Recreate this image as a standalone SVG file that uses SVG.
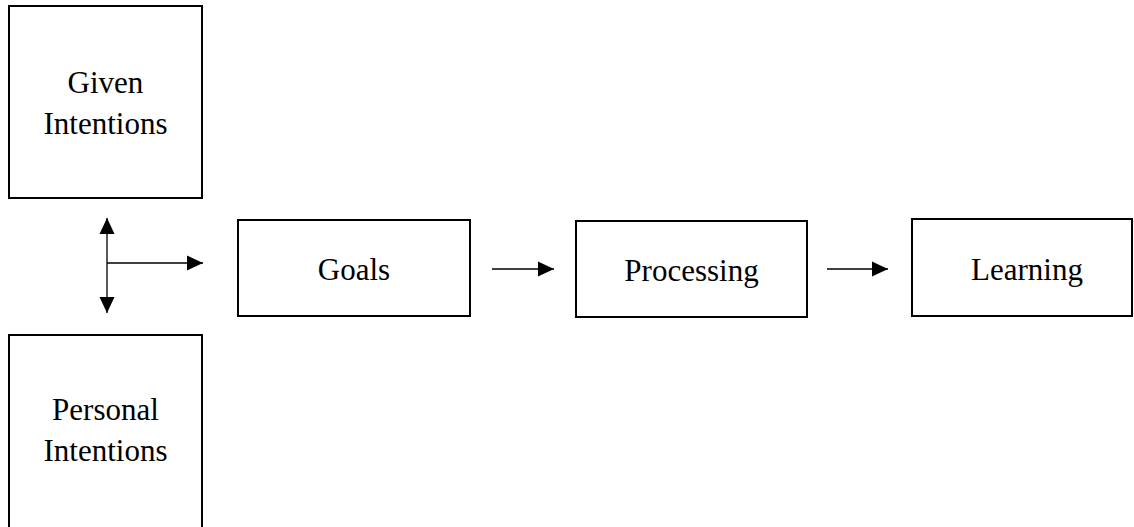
<svg xmlns="http://www.w3.org/2000/svg" width="1134" height="527" viewBox="0 0 1134 527">
<style>
.box{fill:#fff;stroke:#000;stroke-width:2}
.lbl{font-family:'Times New Roman','Liberation Serif',Tinos,'Nimbus Roman','DejaVu Serif',serif;font-size:31px;fill:#000;text-anchor:middle}
.conn{stroke:#000;stroke-width:1.3;fill:none}
</style>
<defs>
<marker id="ah" viewBox="0 0 16 16" refX="16" refY="8" markerWidth="16" markerHeight="16" markerUnits="userSpaceOnUse" orient="auto-start-reverse">
<path d="M0,0.5 L16,8 L0,15.5 Z" fill="#000"/>
</marker>
</defs>
<rect width="1134" height="527" fill="#fff"/>
<g id="given">
<rect class="box" x="9" y="6" width="193" height="192"/>
<text class="lbl" x="105.5" y="93">Given</text>
<text class="lbl" x="105.5" y="134">Intentions</text>
</g>
<g id="personal">
<rect class="box" x="9" y="335" width="193" height="200"/>
<text class="lbl" x="105.5" y="420">Personal</text>
<text class="lbl" x="105.5" y="461">Intentions</text>
</g>
<g id="goals">
<rect class="box" x="238" y="220" width="232" height="96"/>
<text class="lbl" x="354" y="280">Goals</text>
</g>
<g id="processing">
<rect class="box" x="576" y="221" width="231" height="96"/>
<text class="lbl" x="691.5" y="281">Processing</text>
</g>
<g id="learning">
<rect class="box" x="912" y="219" width="220" height="97"/>
<text class="lbl" x="1027" y="280">Learning</text>
</g>
<g id="connectors">
<line class="conn" x1="107" y1="218" x2="107" y2="313" marker-start="url(#ah)" marker-end="url(#ah)"/>
<line class="conn" x1="107" y1="263" x2="203" y2="263" marker-end="url(#ah)"/>
<line class="conn" x1="492" y1="269" x2="554" y2="269" marker-end="url(#ah)"/>
<line class="conn" x1="827" y1="269" x2="888" y2="269" marker-end="url(#ah)"/>
</g>
</svg>
